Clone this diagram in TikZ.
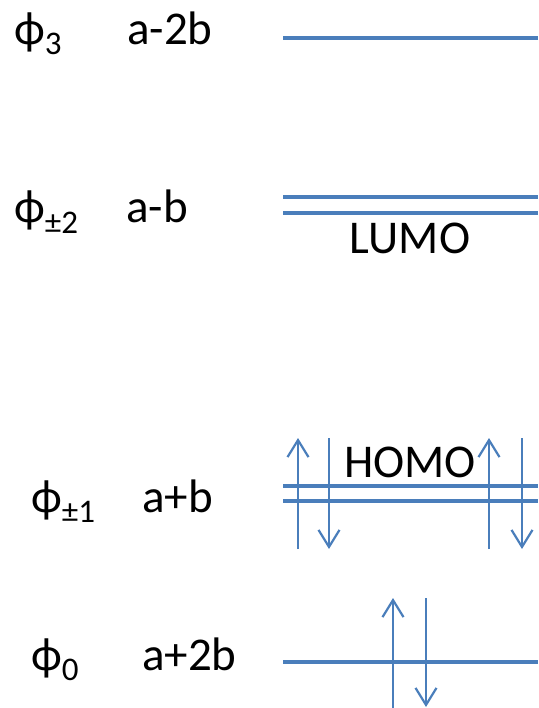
\documentclass[tikz,border=0pt]{standalone}
\usepackage{fontspec}
\setmainfont{Carlito}
\usetikzlibrary{arrows.meta}
\definecolor{lvl}{RGB}{74,126,187}
\newcommand\sbs[1]{\raisebox{-10pt}{\fontsize{33}{33}\selectfont #1}}
\begin{document}
\begin{tikzpicture}[x=1pt,y=-1pt,
  lab/.style={anchor=base west, inner sep=0pt, font=\fontsize{47}{56}\selectfont},
  mo/.style={anchor=base, inner sep=0pt, font=\fontsize{47}{56}\selectfont},
  level/.style={draw=lvl, line width=4pt},
  spin/.style={draw=lvl, line width=2.2pt, -{Straight Barb[length=17pt,width=21pt,line width=2.2pt]}}]
\useasboundingbox (0,0) rectangle (538,708);
% labels
\node[lab] (p3) at (14,45) {ϕ\sbs{3}};
\node[lab] (e3) at (127,45) {a-2b};
\node[lab] (p2) at (14,223) {ϕ\sbs{±2}};
\node[lab] (e2) at (126,223) {a-b};
\node[lab] (p1) at (31,512) {ϕ\sbs{±1}};
\node[lab] (e1) at (142,512) {a+b};
\node[lab] (p0) at (31,670) {ϕ\sbs{0}};
\node[lab] (e0) at (142,670) {a+2b};
\node[mo] (lumo) at (410,254) {LUMO};
\node[mo] (homo) at (410,477) {HOMO};
% levels
\coordinate (a3) at (283,38);  \coordinate (b3) at (538,38);
\coordinate (a2u) at (283,197); \coordinate (b2u) at (538,197);
\coordinate (a2l) at (283,213); \coordinate (b2l) at (538,213);
\coordinate (a1u) at (283,486); \coordinate (b1u) at (538,486);
\coordinate (a1l) at (283,501); \coordinate (b1l) at (538,501);
\coordinate (a0) at (283,662);  \coordinate (b0) at (538,662);
\draw[level] (a3) -- (b3);
\draw[level] (a2u) -- (b2u);
\draw[level] (a2l) -- (b2l);
\draw[level] (a1u) -- (b1u);
\draw[level] (a1l) -- (b1l);
\draw[level] (a0) -- (b0);
% spins
\coordinate (u1s) at (298,549); \coordinate (u1e) at (298,438);
\coordinate (d1s) at (329,438); \coordinate (d1e) at (329,549);
\coordinate (u2s) at (489,549); \coordinate (u2e) at (489,438);
\coordinate (d2s) at (522,438); \coordinate (d2e) at (522,549);
\coordinate (u0s) at (393,708); \coordinate (u0e) at (393,598);
\coordinate (d0s) at (426,598); \coordinate (d0e) at (426,707);
\draw[spin] (u1s) -- (u1e);
\draw[spin] (d1s) -- (d1e);
\draw[spin] (u2s) -- (u2e);
\draw[spin] (d2s) -- (d2e);
\draw[spin] (u0s) -- (u0e);
\draw[spin] (d0s) -- (d0e);
\end{tikzpicture}
\end{document}
